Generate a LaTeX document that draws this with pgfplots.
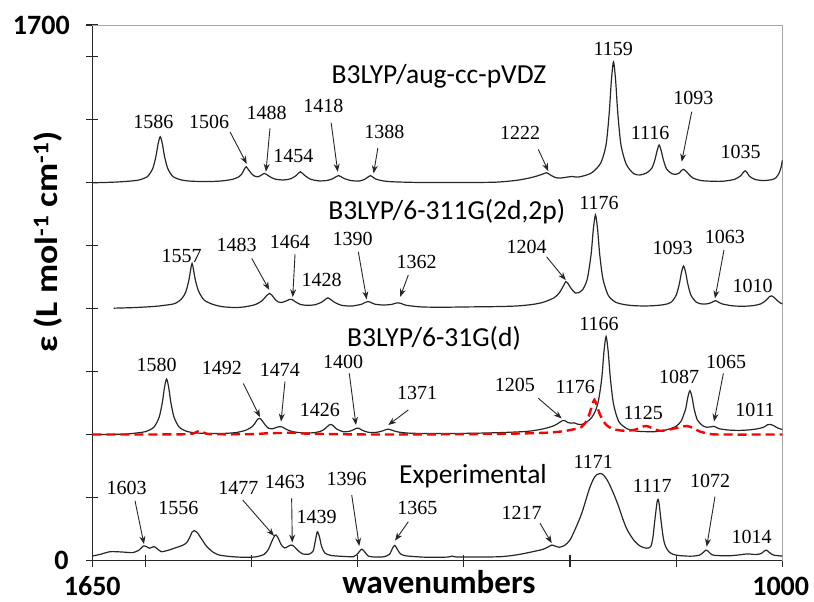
\documentclass[border=0pt]{standalone}
\usepackage{pgfplots}
\pgfplotsset{compat=1.18}
\usepackage{fontspec}
\setmainfont{Liberation Serif}
\newfontfamily\carl{Carlito}
\usetikzlibrary{arrows.meta}
\newcommand\pkf{\fontsize{20bp}{20bp}\selectfont}
\newcommand\pk[3]{\node[font=\pkf, inner sep=0pt] at (axis cs:#1,#2) {#3};}
\newcommand\arr[4]{\draw[-{Stealth[length=8bp,width=6bp]}, line width=0.9bp, black!85] (axis cs:#1,#2) -- (axis cs:#3,#4);}
\newcommand\ttl[3]{\node[font=\carl\fontsize{27.5bp}{28bp}\selectfont, anchor=base, inner sep=0pt, black] at (axis cs:#1,#2) {#3};}
\begin{document}
\begin{tikzpicture}
\useasboundingbox (-92.3bp,-41.5bp) rectangle (721.7bp,560.5bp);
\begin{axis}[
 scale only axis, width=690bp, height=535.5bp,
 xmin=1000, xmax=1650, ymin=0, ymax=1700, x dir=reverse,
 clip=false,
 axis x line*=bottom, axis y line*=left,
 axis line style={black!85, line width=1.3bp},
 xtick={1000,1100,1200,1300,1400,1500,1600,1650},
 ytick={0,200,400,600,800,1000,1200,1400,1600,1700},
 xticklabels={}, yticklabels={},
 tick align=center, major tick length=12bp,
 tick style={black!85, line width=1.1bp},
 spec/.style={no marks, black!85, line width=1.2bp, smooth, tension=0.45},
]
\draw[gray!70, line width=0.9bp] (rel axis cs:0,1) -- (rel axis cs:1,1) -- (rel axis cs:1,0);

% B3LYP/aug-cc-pVDZ
\addplot[spec] coordinates {
(1650,1199)(1630,1201)(1616,1204)(1606,1208)(1598,1219)(1593,1245)(1590,1284)(1588,1323)(1586,1345)(1584,1323)(1582,1284)(1579,1245)(1574,1219)(1566,1208)(1556,1204)(1540,1203)(1528,1205)(1518,1210)(1512,1218)(1509,1228)(1507,1241)(1505,1250)(1503,1241)(1500,1228)(1497,1220)(1494,1218)(1491,1223)(1488,1229)(1486,1226)(1483,1219)(1478,1211)(1470,1208)(1463,1212)(1458,1222)(1456,1229)(1454,1234)(1452,1229)(1449,1220)(1444,1210)(1436,1205)(1428,1207)(1423,1213)(1420,1219)(1418,1222)(1416,1219)(1413,1213)(1406,1206)(1398,1205)(1393,1211)(1390,1218)(1388,1222)(1386,1218)(1383,1211)(1376,1205)(1365,1202)(1340,1200)(1300,1200)(1270,1201)(1250,1207)(1236,1216)(1228,1224)(1224,1229)(1222,1231)(1219,1225)(1214,1216)(1209,1214)(1203,1217)(1198,1219)(1193,1217)(1186,1222)(1179,1232)(1171,1262)(1166,1320)(1163,1422)(1161,1524)(1159,1583)(1157,1524)(1155,1422)(1152,1320)(1147,1258)(1140,1228)(1134,1224)(1128,1230)(1123,1245)(1120,1272)(1118,1300)(1116,1319)(1114,1300)(1112,1272)(1109,1243)(1104,1228)(1100,1226)(1097,1230)(1095,1238)(1093,1242)(1091,1237)(1088,1226)(1084,1214)(1076,1206)(1066,1204)(1056,1204)(1045,1210)(1039,1222)(1037,1231)(1035,1237)(1033,1231)(1031,1220)(1026,1210)(1018,1206)(1010,1209)(1006,1215)(1003,1230)(1001,1250)(1000,1270)
};

% B3LYP/6-311G(2d,2p)
\addplot[spec] coordinates {
(1630,801)(1610,803)(1590,807)(1578,812)(1572,816)(1566,830)(1562,852)(1559,890)(1557,930)(1556,943)(1555,930)(1553,892)(1550,856)(1545,828)(1538,815)(1528,806)(1515,803)(1505,806)(1496,813)(1490,825)(1486,840)(1483,848)(1481,843)(1478,830)(1475,821)(1472,819)(1468,823)(1464,829)(1462,829)(1459,822)(1454,813)(1448,810)(1440,812)(1434,820)(1430,830)(1428,834)(1426,830)(1422,820)(1415,810)(1405,808)(1396,814)(1393,819)(1390,822)(1388,820)(1384,814)(1376,811)(1368,813)(1364,817)(1362,818)(1359,816)(1354,810)(1340,805)(1320,804)(1297,805)(1270,806)(1250,808)(1235,813)(1225,820)(1215,834)(1210,850)(1206,873)(1204,885)(1202,880)(1199,864)(1195,849)(1192,850)(1188,860)(1185,880)(1183,905)(1180,975)(1178,1052)(1176,1097)(1174,1052)(1172,972)(1169,895)(1164,842)(1157,820)(1148,812)(1140,809)(1130,808)(1121,809)(1112,812)(1105,819)(1100,842)(1097,878)(1095,914)(1093,935)(1091,914)(1089,878)(1086,842)(1081,820)(1075,814)(1069,816)(1065,822)(1063,825)(1061,822)(1057,815)(1048,809)(1038,807)(1028,809)(1020,815)(1015,827)(1012,838)(1010,840)(1008,836)(1005,826)(1002,818)(1000,815)
};

% B3LYP/6-31G(d)
\addplot[spec] coordinates {
(1650,400)(1620,401)(1608,405)(1600,409)(1592,423)(1587,455)(1584,502)(1582,549)(1580,576)(1578,549)(1576,502)(1573,455)(1568,423)(1560,409)(1548,404)(1530,403)(1515,406)(1505,414)(1499,426)(1496,440)(1494,449)(1492,451)(1490,444)(1487,430)(1484,420)(1480,418)(1477,422)(1474,425)(1471,424)(1467,416)(1460,408)(1450,405)(1440,406)(1433,413)(1429,424)(1427,430)(1425,432)(1423,428)(1420,418)(1414,409)(1408,410)(1404,415)(1401,420)(1399,420)(1396,414)(1390,407)(1382,407)(1376,412)(1373,416)(1371,417)(1368,414)(1362,408)(1350,404)(1320,403)(1290,404)(1266,406)(1240,410)(1225,418)(1215,428)(1210,438)(1207,444)(1205,444)(1202,438)(1199,436)(1196,437)(1193,433)(1189,432)(1185,438)(1180,452)(1176,475)(1173,510)(1170,580)(1168,663)(1166,711)(1164,663)(1162,580)(1159,497)(1154,441)(1146,418)(1138,411)(1128,409)(1120,409)(1110,414)(1100,426)(1095,444)(1093,462)(1091,481)(1089,518)(1087,539)(1085,518)(1083,481)(1080,446)(1075,428)(1071,423)(1068,424)(1065,426)(1063,424)(1059,418)(1050,414)(1040,413)(1030,415)(1022,419)(1017,424)(1014,431)(1011,432)(1008,428)(1004,420)(1000,416)
};

% red dashed
\addplot[no marks, red, line width=2.4bp, dash pattern=on 9bp off 5bp, smooth, tension=0.45] coordinates {
(1650,400)(1600,400)(1560,401)(1553,406)(1549,412)(1545,406)(1538,401)(1500,401)(1485,404)(1470,405)(1460,406)(1450,403)(1420,401)(1380,400)(1300,401)(1250,403)(1220,406)(1205,411)(1196,417)(1190,422)(1185,440)(1182,462)(1179,495)(1177,510)(1175,495)(1172,465)(1168,440)(1165,428)(1160,418)(1153,413)(1145,412)(1138,416)(1133,423)(1129,427)(1125,424)(1120,416)(1116,412)(1110,413)(1102,419)(1095,424)(1090,427)(1085,422)(1078,410)(1070,403)(1060,400)(1000,400)
};

% Experimental
\addplot[spec] coordinates {
(1650,14)(1642,20)(1633,28)(1622,27)(1612,25)(1606,33)(1602,46)(1599,44)(1596,39)(1592,44)(1589,38)(1585,28)(1578,33)(1571,41)(1565,48)(1561,57)(1558,75)(1556,90)(1554,95)(1551,88)(1547,68)(1542,44)(1536,26)(1530,17)(1518,12)(1505,10)(1495,12)(1488,20)(1484,36)(1481,60)(1478,80)(1477,81)(1475,72)(1472,50)(1469,40)(1466,44)(1463,49)(1461,48)(1458,38)(1455,28)(1452,21)(1446,20)(1442,30)(1440,60)(1438,91)(1436,75)(1434,45)(1431,24)(1425,16)(1414,13)(1404,12)(1401,18)(1398,30)(1396,36)(1393,26)(1390,14)(1384,11)(1375,12)(1370,20)(1367,40)(1365,48)(1363,38)(1360,22)(1355,15)(1340,11)(1329,10)(1315,11)(1311,14)(1307,11)(1290,11)(1266,12)(1250,18)(1235,28)(1225,36)(1219,46)(1217,49)(1214,46)(1210,42)(1205,48)(1200,65)(1195,100)(1190,140)(1187,170)(1182,225)(1178,258)(1175,272)(1171,276)(1168,270)(1164,250)(1159,213)(1154,170)(1150,130)(1146,97)(1140,65)(1134,46)(1128,39)(1124,44)(1122,70)(1120,130)(1118,185)(1117,194)(1116,180)(1114,120)(1112,70)(1110,45)(1106,25)(1100,17)(1090,14)(1084,14)(1078,17)(1074,27)(1072,33)(1070,30)(1067,20)(1063,16)(1050,15)(1040,18)(1033,21)(1025,19)(1020,22)(1017,30)(1015,33)(1012,25)(1008,17)(1000,14)
};

% titles
\ttl{1323.4}{1515}{B3LYP/aug-cc-pVDZ}
\ttl{1316.1}{1081}{B3LYP/6-311G(2d,2p)}
\ttl{1328.1}{679}{B3LYP/6-31G(d)}
\ttl{1291.4}{245}{Experimental}

% S1 labels
\pk{1592.5}{1391}{1586}\pk{1540}{1391}{1506}\pk{1485.7}{1420}{1488}\pk{1460.6}{1284}{1454}
\pk{1432.4}{1443}{1418}\pk{1374.9}{1359}{1388}\pk{1247}{1356}{1222}\pk{1159.2}{1623}{1159}
\pk{1124.6}{1358}{1116}\pk{1083.8}{1467}{1093}\pk{1039.2}{1296}{1035}
\arr{1520.3}{1361}{1504.5}{1259}\arr{1482.6}{1372}{1486.4}{1234}\arr{1425}{1390}{1418.8}{1234}
\arr{1381}{1309}{1385}{1229}\arr{1229.8}{1305}{1220.4}{1236}\arr{1085.3}{1425}{1094.8}{1266}

% S2 labels
\pk{1565.8}{967}{1557}\pk{1514}{1002}{1483}\pk{1463.8}{1012}{1464}\pk{1433.9}{890}{1428}
\pk{1404.7}{1020}{1390}\pk{1344.4}{949}{1362}\pk{1240.8}{996}{1204}\pk{1172.7}{1136}{1176}
\pk{1103.2}{991}{1093}\pk{1054}{1026}{1063}\pk{1027.9}{871}{1010}
\arr{1499.8}{959}{1483.3}{859}\arr{1459}{973}{1461.2}{836}\arr{1399.4}{980}{1391.5}{829}
\arr{1352.3}{906}{1360}{837}\arr{1222}{964}{1204}{890}\arr{1054.9}{986}{1063.4}{832}

% S3 labels
\pk{1589.3}{621}{1580}\pk{1528}{610}{1492}\pk{1473.2}{605}{1474}\pk{1435.5}{478}{1426}
\pk{1413.6}{631}{1400}\pk{1344}{531}{1371}\pk{1251.8}{557}{1205}\pk{1195}{550}{1176}
\pk{1172.7}{751}{1166}\pk{1130.9}{469}{1125}\pk{1097.3}{583}{1087}\pk{1053}{631}{1065}
\pk{1025.7}{478}{1011}
\arr{1507.7}{562}{1492}{455}\arr{1468.5}{568}{1472.2}{441}\arr{1407.9}{594}{1401.6}{430}
\arr{1352.3}{478}{1371.2}{430}\arr{1229.8}{515}{1207.8}{451}\arr{1055.5}{594}{1064.3}{441}

% Exp labels
\pk{1617.6}{229}{1603}\pk{1569}{166}{1556}\pk{1512.5}{229}{1477}\pk{1468.5}{250}{1463}
\pk{1438.6}{139}{1439}\pk{1410.3}{258}{1396}\pk{1343.8}{166}{1365}\pk{1245.5}{150}{1217}
\pk{1178}{314}{1171}\pk{1122.5}{237}{1117}\pk{1068}{252}{1072}\pk{1028.8}{76}{1014}
\arr{1609.8}{190}{1601.3}{52}\arr{1508.3}{192}{1478.8}{78}\arr{1462.2}{197}{1461.6}{57}
\arr{1405.6}{208}{1398.5}{46}\arr{1352.3}{123}{1364.8}{63}\arr{1228.2}{118}{1217.2}{55}
\arr{1063.4}{203}{1071.2}{44}

% tick labels and axis labels
\node[font=\carl\bfseries\fontsize{28bp}{28bp}\selectfont, inner sep=0pt] at (axis cs:1650,-82) {1650};
\node[font=\carl\bfseries\fontsize{28bp}{28bp}\selectfont, inner sep=0pt] at (axis cs:1001.5,-82) {1000};
\node[font=\carl\bfseries\fontsize{28bp}{28bp}\selectfont, inner sep=0pt] at (axis cs:1698,1698) {1700};
\node[font=\carl\bfseries\fontsize{28bp}{28bp}\selectfont, inner sep=0pt] at (axis cs:1679,0) {0};
\node[font=\carl\bfseries\fontsize{33bp}{33bp}\selectfont, anchor=base, inner sep=0pt] at (axis cs:1323.4,-104) {wavenumbers};
\node[font=\carl\bfseries\fontsize{32bp}{32bp}\selectfont, rotate=90, inner sep=0pt] at (axis cs:1691.7,1011) {\scalebox{1.12}[1]{ε (L mol\textsuperscript{-1} cm\textsuperscript{-1})}};
\end{axis}
\end{tikzpicture}
\end{document}
